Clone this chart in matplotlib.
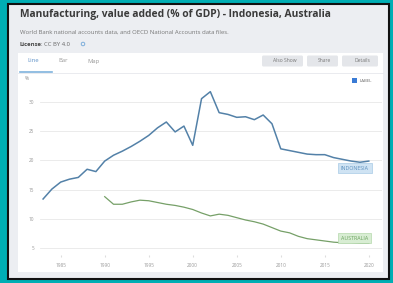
import matplotlib.pyplot as plt
from matplotlib.patches import Rectangle, FancyBboxPatch

plt.rcParams['font.family'] = ['Open Sans', 'DejaVu Sans']

# data
idn_years = list(range(1983, 2021))
idn_values = [13.4, 15.1, 16.3, 16.8, 17.1, 18.5, 18.1, 19.9, 20.9, 21.6,
              22.4, 23.3, 24.3, 25.6, 26.6, 24.9, 25.9, 22.6, 30.6, 31.8,
              28.2, 27.9, 27.4, 27.5, 27.0, 27.8, 26.3, 22.0, 21.7, 21.4,
              21.1, 21.0, 21.0, 20.5, 20.2, 19.9, 19.7, 19.9]
aus_years = list(range(1990, 2021))
aus_values = [13.8, 12.5, 12.5, 12.9, 13.2, 13.1, 12.8, 12.5, 12.3, 12.0,
              11.6, 11.0, 10.5, 10.8, 10.6, 10.2, 9.8, 9.5, 9.1, 8.5,
              7.9, 7.6, 7.0, 6.6, 6.4, 6.2, 6.0, 5.9, 5.9, 5.8, 5.8]
x_ticks = [1985, 1990, 1995, 2000, 2005, 2010, 2015, 2020]
y_ticks = [5, 10, 15, 20, 25, 30]

W, H = 393, 283
fig = plt.figure(figsize=(W / 100, H / 100), dpi=100)
fig.patch.set_facecolor('#00AEB4')

# page furniture drawn in pixel coordinates
bg = fig.add_axes([0, 0, 1, 1], zorder=0)
bg.set_xlim(0, W)
bg.set_ylim(H, 0)
bg.axis('off')
bg.add_patch(Rectangle((8, 4), 381, 275, facecolor='#eceef2', edgecolor='#111111', lw=1.5))
bg.add_patch(Rectangle((18, 53), 365, 219, facecolor='white', edgecolor='none'))
bg.text(20, 15, 'Manufacturing, value added (% of GDP) - Indonesia, Australia',
        fontsize=7.4, fontweight='bold', color='#3a3a3a', va='center', ha='left')
bg.text(20, 32, 'World Bank national accounts data, and OECD National Accounts data files.',
        fontsize=4.3, color='#777777', va='center', ha='left')
bg.text(20, 44, 'License', fontsize=4.2, fontweight='bold', color='#444444', va='center')
bg.text(41, 44, ': CC BY 4.0', fontsize=4.2, color='#666666', va='center')
bg.add_patch(plt.Circle((83, 44), 1.8, facecolor='none', edgecolor='#6fa6d8', lw=0.6))

# tabs
bg.text(33, 61, 'Line', fontsize=4.2, color='#5b8fc7', va='center', ha='center')
bg.text(63, 61, 'Bar', fontsize=4.2, color='#999999', va='center', ha='center')
bg.text(94, 61, 'Map', fontsize=4.2, color='#999999', va='center', ha='center')
bg.plot([18, 383], [72.5, 72.5], color='#e6e8ec', lw=0.6)
bg.plot([20, 52], [72, 72], color='#7fb3dd', lw=1.2)

# buttons
for x0, w, label in [(262, 41, 'Also Show'), (307, 31, 'Share'), (342, 36, 'Details')]:
    bg.add_patch(FancyBboxPatch((x0, 55.5), w, 11, boxstyle='round,pad=0,rounding_size=1.5',
                                facecolor='#e4e6ea', edgecolor='none'))
    bg.text(x0 + w / 2 + 2, 61, label, fontsize=3.6, color='#777777', va='center', ha='center')

# label checkbox
bg.add_patch(Rectangle((352, 78), 5, 5, facecolor='#3a7bd5', edgecolor='none'))
bg.text(360, 80.5, 'LABEL', fontsize=3.2, color='#666666', va='center', ha='left')
bg.text(27, 78, '%', fontsize=3.6, color='#888888', va='center', ha='center')

# chart
ax = fig.add_axes([40 / W, 1 - 255 / H, 342 / W, 175 / H], zorder=1)
ax.set_facecolor('none')
ax.plot(idn_years, idn_values, color='#5381a8', lw=1.1)
ax.plot(aus_years, aus_values, color='#76a068', lw=0.9)

ax.set_xlim(1982.65, 2021.5)
ax.set_ylim(3.8, 33.8)
ax.set_xticks(x_ticks)
ax.set_yticks(y_ticks)
ax.set_xticklabels([str(x) for x in x_ticks])
ax.set_yticklabels([str(y) for y in y_ticks])
ax.tick_params(axis='x', length=1.5, color='#dddddd', pad=4, labelsize=3.4, labelcolor='#999999')
ax.tick_params(axis='y', length=0, pad=4, labelsize=3.4, labelcolor='#999999')
ax.grid(axis='y', color='#e8e8e8', lw=0.6)
for s in ax.spines.values():
    s.set_visible(False)

# end-of-line labels
ax.text(idn_years[-1] - 1.6, idn_values[-1] - 1.2, 'INDONESIA', fontsize=3.8, color='#5b8fbd',
        ha='center', va='center',
        bbox=dict(boxstyle='square,pad=0.55', facecolor='#cfe3f3', edgecolor='#a9cbe6', lw=0.5))
ax.text(aus_years[-1] - 1.6, aus_values[-1] + 0.9, 'AUSTRALIA', fontsize=3.8, color='#6aa25e',
        ha='center', va='center',
        bbox=dict(boxstyle='square,pad=0.55', facecolor='#d8edd3', edgecolor='#b5d9ad', lw=0.5))

fig.savefig('out.png', dpi=100, facecolor=fig.get_facecolor())
